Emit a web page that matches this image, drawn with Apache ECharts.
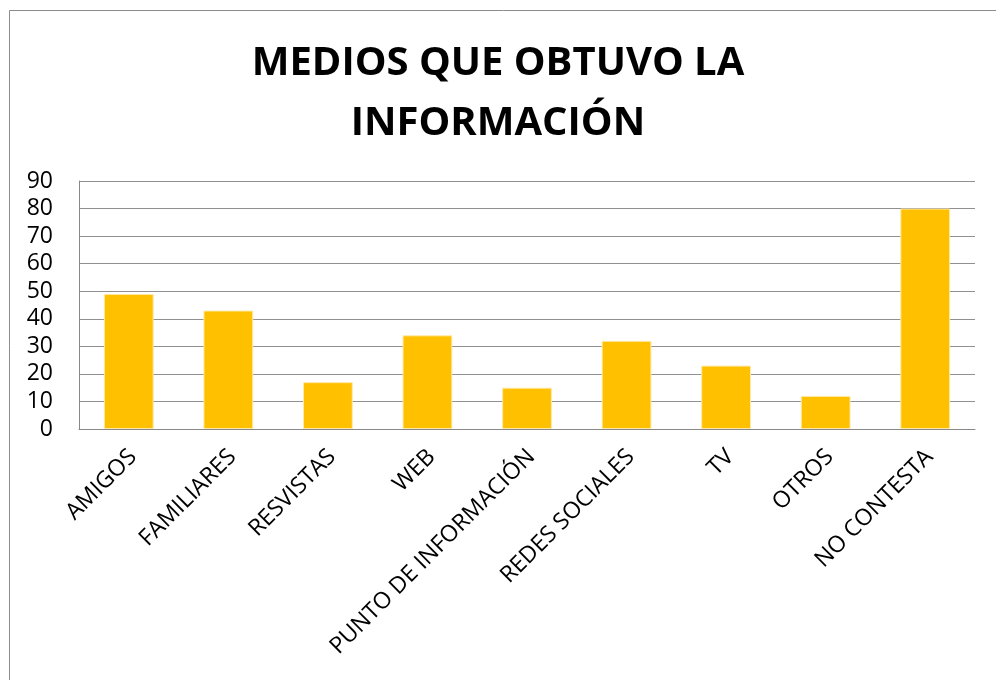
<!DOCTYPE html>
<html>
<head>
<meta charset="utf-8">
<script src="https://cdn.jsdelivr.net/npm/echarts@6/dist/echarts.min.js"></script>
<style>
html,body{margin:0;padding:0;background:#fff;}
#chart{width:996px;height:680px;}
</style>
</head>
<body>
<div id="chart"></div>
<script>
const titleText = 'MEDIOS QUE OBTUVO LA\nINFORMACIÓN';
const categories = ['AMIGOS','FAMILIARES','RESVISTAS','WEB','PUNTO DE INFORMACIÓN','REDES SOCIALES','TV','OTROS','NO CONTESTA'];
const values = [49, 43, 17, 34, 15, 32, 23, 12, 80];
const yMin = 0, yMax = 90, yStep = 10;

const chart = echarts.init(document.getElementById('chart'), null, {renderer:'canvas'});
chart.setOption({
  animation:false,
  backgroundColor:'#ffffff',
  title:{
    text:titleText,
    left:'center',
    top:29,
    textStyle:{fontFamily:'Open Sans',fontWeight:'bold',fontSize:40,lineHeight:60,color:'#000'}
  },
  graphic:[{
    type:'rect', silent:true,
    shape:{x:9.5,y:10.5,width:1100,height:800},
    style:{fill:'none',stroke:'#8c8c8c',lineWidth:1}
  }],
  grid:{left:79,right:21,top:181,bottom:251,containLabel:false},
  xAxis:{
    type:'category',
    data:categories,
    axisLine:{show:true,lineStyle:{color:'#888',width:1}},
    axisTick:{show:false},
    axisLabel:{rotate:45,margin:20,interval:0,verticalAlign:'top',lineHeight:12,fontFamily:'Open Sans',fontSize:23,color:'#000'}
  },
  yAxis:{
    type:'value',min:yMin,max:yMax,interval:yStep,
    axisLine:{show:true,lineStyle:{color:'#888',width:1}},
    axisTick:{show:false},
    splitLine:{show:true,lineStyle:{color:'#909090',width:1}},
    axisLabel:{margin:26,fontFamily:'Open Sans',fontSize:23,color:'#000'}
  },
  series:[{
    type:'bar',
    data:values,
    barWidth:'50%',
    itemStyle:{color:'#FFC000',borderColor:'#FFE9A8',borderWidth:1}
  }]
});
</script>
</body>
</html>
